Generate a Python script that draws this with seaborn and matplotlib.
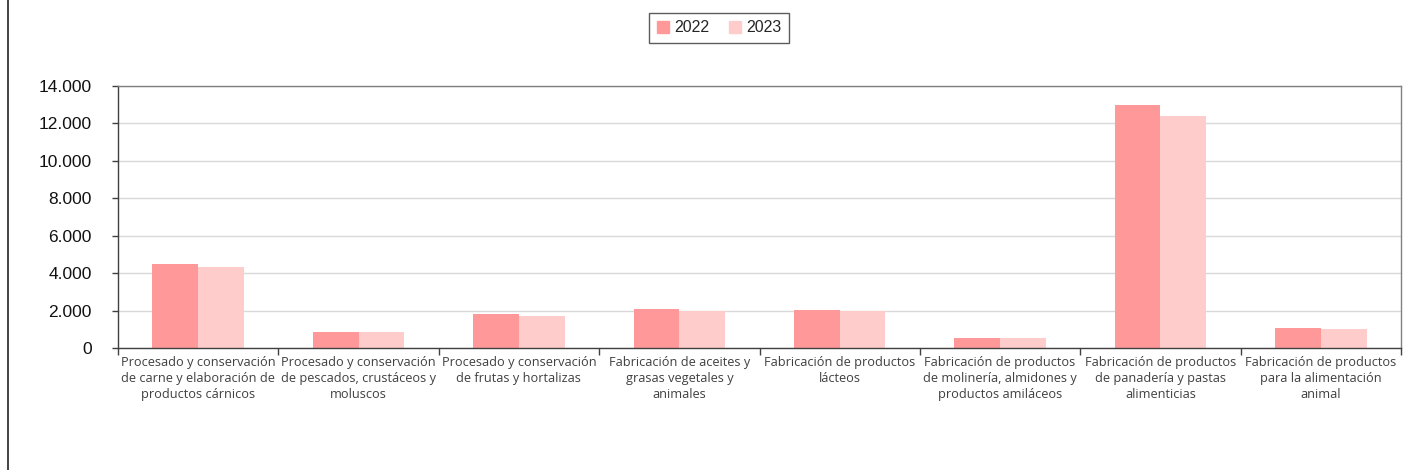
import numpy as np
import pandas as pd
import matplotlib.pyplot as plt
import matplotlib.ticker as mticker
from matplotlib.lines import Line2D
import seaborn as sns

sns.set_theme(style = 'white')
plt.rcParams['font.family'] = ['Liberation Sans', 'DejaVu Sans']

categories = [
    'Procesado y conservación\nde carne y elaboración de\nproductos cárnicos',
    'Procesado y conservación\nde pescados, crustáceos y\nmoluscos',
    'Procesado y conservación\nde frutas y hortalizas',
    'Fabricación de aceites y\ngrasas vegetales y\nanimales',
    'Fabricación de productos\nlácteos',
    'Fabricación de productos\nde molinería, almidones y\nproductos amiláceos',
    'Fabricación de productos\nde panadería y pastas\nalimenticias',
    'Fabricación de productos\npara la alimentación\nanimal',
]
values_2022 = [4490, 870, 1820, 2085, 2030, 520, 12990, 1050]
values_2023 = [4330, 855, 1730, 1980, 1980, 510, 12420, 1000]
years = ['2022', '2023']

df = pd.DataFrame({
    'cat': categories * 2,
    'year': [years[0]] * len(categories) + [years[1]] * len(categories),
    'value': values_2022 + values_2023,
})

fig = plt.figure(figsize = (14.08, 4.70), dpi = 100)
ax = fig.add_axes([118 / 1408, 1 - 348 / 470, (1401 - 118) / 1408, (348 - 86) / 470])

sns.barplot(
    data = df, x = 'cat', y = 'value', hue = 'year', ax = ax,
    palette = {'2022': '#FF9999', '2023': '#FFCCCC'},
    width = 0.57, saturation = 1, errorbar = None, legend = False,
    linewidth = 0, edgecolor = 'none',
)

ax.set_xlim(-0.5, len(categories) - 0.5)
ax.set_ylim(0, 14000)
ax.yaxis.set_major_locator(mticker.MultipleLocator(2000))
ax.yaxis.set_major_formatter(mticker.FuncFormatter(lambda v, p: f'{int(v):,}'.replace(',', '.')))
ax.grid(axis = 'y', color = '#d9d9d9', linewidth = 1)
ax.set_axisbelow(True)
ax.set_xlabel('')
ax.set_ylabel('')

for s in ['left', 'bottom']:
    ax.spines[s].set_color('#404040')
    ax.spines[s].set_linewidth(1)
for s in ['top', 'right']:
    ax.spines[s].set_color('#808080')
    ax.spines[s].set_linewidth(1)

ax.tick_params(axis = 'y', which = 'major', length = 4, width = 1, color = '#404040',
               labelsize = 12.5, pad = 15, left = True, direction = 'out', labelcolor = '#111111')
ax.set_xticks(np.arange(len(categories)))
ax.set_xticklabels(categories, fontsize = 9.2, fontfamily = ['Open Sans', 'DejaVu Sans'],
                   color = '#404040', linespacing = 1.3)
ax.tick_params(axis = 'x', which = 'major', length = 0, pad = 6)
ax.set_xticks(np.arange(len(categories) + 1) - 0.5, minor = True)
ax.tick_params(axis = 'x', which = 'minor', length = 5, width = 1, color = '#404040',
               bottom = True, direction = 'out')

handles = [
    Line2D([0], [0], marker = 's', linestyle = '', markersize = 8, markerfacecolor = '#FF9999', markeredgecolor = '#FF9999'),
    Line2D([0], [0], marker = 's', linestyle = '', markersize = 8, markerfacecolor = '#FFCCCC', markeredgecolor = '#FFCCCC'),
]
leg = fig.legend(handles, years, loc = 'center', bbox_to_anchor = (719 / 1408, 1 - 28 / 470),
                 ncol = 2, frameon = True, fancybox = False, fontsize = 11.5,
                 handlelength = 0.8, handletextpad = 0.3, columnspacing = 1.2, borderpad = 0.45)
leg.get_frame().set_edgecolor('#333333')
leg.get_frame().set_linewidth(1)

fig.add_artist(Line2D([8 / 1408, 8 / 1408], [0, 1], transform = fig.transFigure, color = '#222222', linewidth = 1.2))

fig.savefig('out.png', dpi = 100)
